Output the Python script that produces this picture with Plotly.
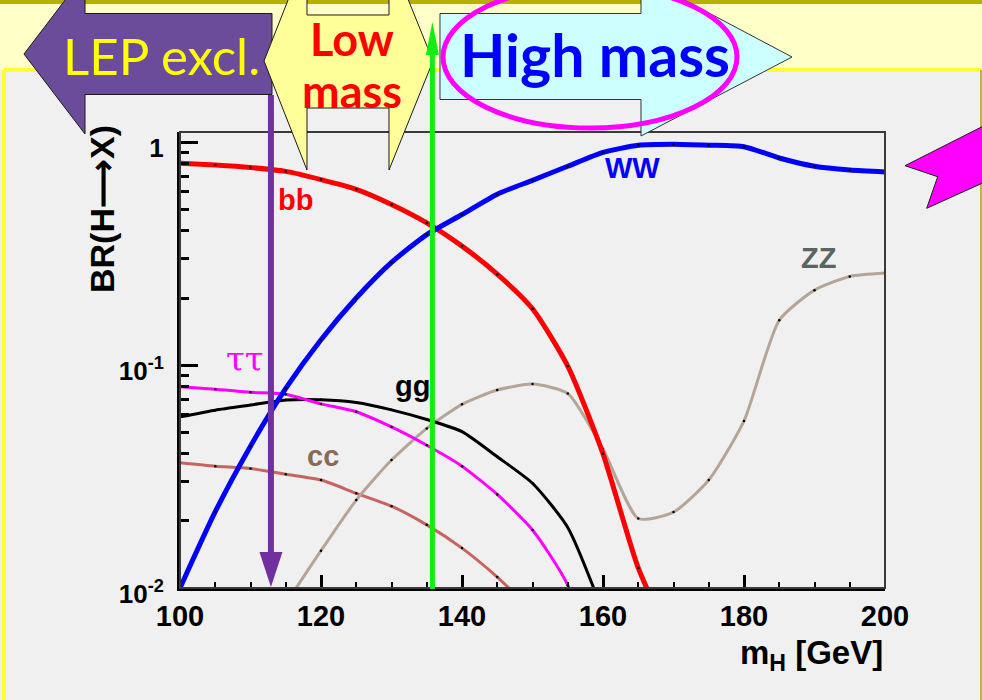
import plotly.graph_objects as go

# ---------------------------------------------------------------
# SM Higgs branching ratios vs. Higgs mass (GeV), sampled every 5 GeV
# ---------------------------------------------------------------
mass_bb = [100, 105, 110, 115, 120, 125, 130, 135, 140, 145, 150, 155, 160, 165, 170]
br_bb = [0.805, 0.79, 0.77, 0.74, 0.68, 0.615, 0.526, 0.435, 0.342, 0.256, 0.179,
         0.099, 0.040, 0.0123, 0.0055]

mass_ww = [100, 105, 110, 115, 120, 125, 130, 135, 140, 145, 150, 155, 160, 165,
           170, 175, 180, 185, 190, 195, 200]
br_ww = [0.0100, 0.022, 0.0433, 0.0786, 0.130, 0.200, 0.289, 0.385, 0.474, 0.585,
         0.675, 0.780, 0.900, 0.970, 0.980, 0.970, 0.955, 0.850, 0.780, 0.750, 0.735]

mass_zz = [115, 120, 125, 130, 135, 140, 145, 150, 155, 160, 165, 170, 175, 180,
           185, 190, 195, 200]
br_zz = [0.0085, 0.0147, 0.0248, 0.0375, 0.052, 0.0667, 0.0773, 0.0822, 0.0746,
         0.042, 0.0205, 0.0219, 0.0305, 0.0562, 0.159, 0.217, 0.250, 0.259]

mass_tautau = [100, 105, 110, 115, 120, 125, 130, 135, 140, 145, 150, 155, 160]
br_tautau = [0.080, 0.078, 0.0755, 0.074, 0.067, 0.0618, 0.0528, 0.0437, 0.0352,
             0.0263, 0.0182, 0.0103, 0.003]

mass_gg = [100, 105, 110, 115, 120, 125, 130, 135, 140, 145, 150, 155, 160]
br_gg = [0.0586, 0.0628, 0.0662, 0.0697, 0.0700, 0.0680, 0.0630, 0.0570, 0.0503,
         0.0388, 0.0295, 0.0187, 0.0078]

mass_cc = [100, 105, 110, 115, 120, 125, 130, 135, 140, 145, 150]
br_cc = [0.0365, 0.0352, 0.0344, 0.0324, 0.0305, 0.0266, 0.0233, 0.0192, 0.0151,
         0.0112, 0.0079]

x_tick_vals = [100, 120, 140, 160, 180, 200]
y_tick_vals = [0.01, 0.1, 1]
y_tick_text = ["10<sup>-2</sup>", "10<sup>-1</sup>", "1"]
y_minor_vals = [m * 10 ** e for e in (-2, -1) for m in range(2, 10)]

LEP_LIMIT = 112.9      # LEP exclusion marker (GeV)
BB_WW_CROSS = 135.8    # bb / WW crossover marker (GeV)

X_MIN, X_MAX = 100, 200

# ---------------------------------------------------------------
# Page geometry (pixels) and helpers to convert to paper coordinates
# ---------------------------------------------------------------
W, H = 982, 700
PL, PR, PT, PB = 180, 885, 132, 588   # plot-area edges in pixels


def px(x):
    return (x - PL) / (PR - PL)


def py(y):
    return (PB - y) / (PB - PT)


def mx(m):
    # mass value -> pixel x
    return PL + (m - X_MIN) / (X_MAX - X_MIN) * (PR - PL)


def poly(points):
    return "M " + " L ".join(f"{px(x):.5f},{py(y):.5f}" for x, y in points) + " Z"


ROOT_FONT = "Liberation Sans, Arial, sans-serif"
SLIDE_FONT = "Lato, Open Sans, sans-serif"

fig = go.Figure()

series = [
    (mass_cc, br_cc, "#c8645f", 3),
    (mass_zz, br_zz, "#b4a596", 3),
    (mass_gg, br_gg, "#000000", 3),
    (mass_tautau, br_tautau, "#ff00ff", 3),
    (mass_bb, br_bb, "#ff0000", 5),
    (mass_ww, br_ww, "#0000ff", 5),
]
for xs, ys, color, width in series:
    fig.add_trace(go.Scatter(
        x=xs, y=ys, mode="lines+markers",
        line=dict(color=color, width=width, shape="spline", smoothing=0.6),
        marker=dict(color="black", size=2.5),
        showlegend=False, hoverinfo="skip",
    ))

shapes = []
# slide background: yellow header band, olive rule, framed grey panel
shapes.append(dict(type="rect", xref="paper", yref="paper", layer="below",
                   x0=px(0), x1=px(W), y0=py(0), y1=py(70),
                   fillcolor="#ffffc8", line=dict(width=0)))
shapes.append(dict(type="rect", xref="paper", yref="paper", layer="below",
                   x0=px(0), x1=px(W), y0=py(0), y1=py(4),
                   fillcolor="#b8b000", line=dict(width=0)))
shapes.append(dict(type="line", xref="paper", yref="paper", layer="below",
                   x0=px(4), x1=px(981), y0=py(70), y1=py(70),
                   line=dict(color="#ffff33", width=4)))
shapes.append(dict(type="line", xref="paper", yref="paper", layer="below",
                   x0=px(4), x1=px(4), y0=py(70), y1=py(H + 5),
                   line=dict(color="#ffff33", width=4)))
shapes.append(dict(type="line", xref="paper", yref="paper", layer="below",
                   x0=px(981), x1=px(981), y0=py(70), y1=py(H + 5),
                   line=dict(color="#bcb44a", width=2)))
# plot frame (top / right)
shapes.append(dict(type="rect", xref="paper", yref="paper", layer="above",
                   x0=0, x1=1, y0=0, y1=1, line=dict(color="#3a3a3a", width=2)))

# "LEP excl." left arrow
shapes.append(dict(type="path", xref="paper", yref="paper", layer="above",
                   path=poly([(24, 54), (85, -26), (85, 13.5), (272, 13.5),
                              (272, 94.5), (85, 94.5), (85, 134)]),
                   fillcolor="#6b4c9a", line=dict(color="#1a1a1a", width=1)))
# "Low mass" double arrow
shapes.append(dict(type="path", xref="paper", yref="paper", layer="above",
                   path=poly([(264, 61), (307, -48), (307, 15), (389, 15), (389, -48),
                              (433, 61), (389, 170), (389, 108), (307, 108), (307, 170)]),
                   fillcolor="#ffff99", line=dict(color="#1a1a1a", width=1)))
# "High mass" right arrow
shapes.append(dict(type="path", xref="paper", yref="paper", layer="above",
                   path=poly([(440, 13.5), (641, 13.5), (641, -23), (792, 57),
                              (641, 136), (641, 99.5), (440, 99.5)]),
                   fillcolor="#ccffff", line=dict(color="#333333", width=1)))
# magenta ellipse around "High mass"
shapes.append(dict(type="circle", xref="paper", yref="paper", layer="above",
                   x0=px(443), x1=px(737), y0=py(-14), y1=py(128),
                   line=dict(color="#ff00ff", width=5)))
# magenta pointer on the right edge
shapes.append(dict(type="path", xref="paper", yref="paper", layer="above",
                   path=poly([(905, 165.7), (1010, 112.6), (1010, 170.6),
                              (926.7, 208.3), (937.7, 176.7)]),
                   fillcolor="#ff00ff", line=dict(color="#1a1a1a", width=1)))

# purple LEP limit arrow (down)
xl = mx(LEP_LIMIT)
shapes.append(dict(type="line", xref="paper", yref="paper", layer="above",
                   x0=px(xl), x1=px(xl), y0=py(95), y1=py(556),
                   line=dict(color="#70309f", width=6)))
shapes.append(dict(type="path", xref="paper", yref="paper", layer="above",
                   path=poly([(xl - 11.5, 552), (xl + 11.5, 552), (xl, 587)]),
                   fillcolor="#70309f", line=dict(width=0)))
# green crossover arrow (up)
xg = mx(BB_WW_CROSS)
shapes.append(dict(type="line", xref="paper", yref="paper", layer="above",
                   x0=px(xg), x1=px(xg), y0=py(589), y1=py(52),
                   line=dict(color="#11ee11", width=5)))
shapes.append(dict(type="path", xref="paper", yref="paper", layer="above",
                   path=poly([(xg - 6.5, 55), (xg + 6.5, 55), (xg, 22)]),
                   fillcolor="#11ee11", line=dict(width=0)))

annotations = []


def label(text, x, y, size, color, family=ROOT_FONT, weight="bold", **kw):
    d = dict(text=text, x=px(x), y=py(y), xref="paper", yref="paper",
             showarrow=False, xanchor="center", yanchor="middle",
             font=dict(family=family, size=size, color=color, weight=weight))
    d.update(kw)
    annotations.append(d)


# slide captions
label("LEP excl.", 161, 55, 51, "#ffff00", family=SLIDE_FONT, weight="normal")
label("Low", 352, 39, 45, "#ff0000", family=SLIDE_FONT)
label("mass", 352, 91, 45, "#ff0000", family=SLIDE_FONT)
label("High mass", 595, 54, 59, "#0000ff", family=SLIDE_FONT)

# channel labels
label("bb", 295, 200, 29, "#ff0000")
label("WW", 632, 168, 29, "#0000ff")
label("ZZ", 818, 258, 29, "#5a6462")
label("gg", 412, 386, 29, "#000000")
label("cc", 323, 456, 29, "#8a6a52")
label("ττ", 245, 359, 34, "#ff00ff", family="DejaVu Serif, Liberation Serif, serif",
      weight="normal")

# axis titles
label("BR(H⟶X)", 102, 209, 34, "#000000", textangle=-90)
label("m<sub>H</sub> [GeV]", 885, 655, 33, "#000000", xanchor="right")

fig.update_layout(
    width=W, height=H,
    margin=dict(l=PL, r=W - PR, t=PT, b=H - PB, autoexpand=False),
    paper_bgcolor="#f0f0f0", plot_bgcolor="#f0f0f0",
    showlegend=False, shapes=shapes, annotations=annotations,
)
fig.update_xaxes(
    range=[X_MIN, X_MAX], tickmode="array", tickvals=x_tick_vals,
    ticks="inside", ticklen=13, tickwidth=3, tickcolor="black",
    showline=True, linewidth=3, linecolor="black", mirror=False,
    showgrid=False, zeroline=False, ticklabelstandoff=0,
    tickfont=dict(family=ROOT_FONT, size=29, color="black", weight="bold"),
    minor=dict(ticks="inside", dtick=5, tick0=100, ticklen=6, tickwidth=2,
               tickcolor="black", showgrid=False),
)
fig.update_yaxes(
    type="log", range=[-2, 0.046], tickmode="array",
    tickvals=y_tick_vals, ticktext=y_tick_text,
    ticks="inside", ticklen=18, tickwidth=3, tickcolor="black",
    showline=True, linewidth=3, linecolor="black", mirror=False,
    showgrid=False, zeroline=False, ticklabelstandoff=8, ticklabelshift=6,
    tickfont=dict(family=ROOT_FONT, size=26, color="black", weight="bold"),
    minor=dict(ticks="inside", tickmode="array", tickvals=y_minor_vals,
               ticklen=9, tickwidth=3, tickcolor="black", showgrid=False),
)

fig.write_html("out.html")
